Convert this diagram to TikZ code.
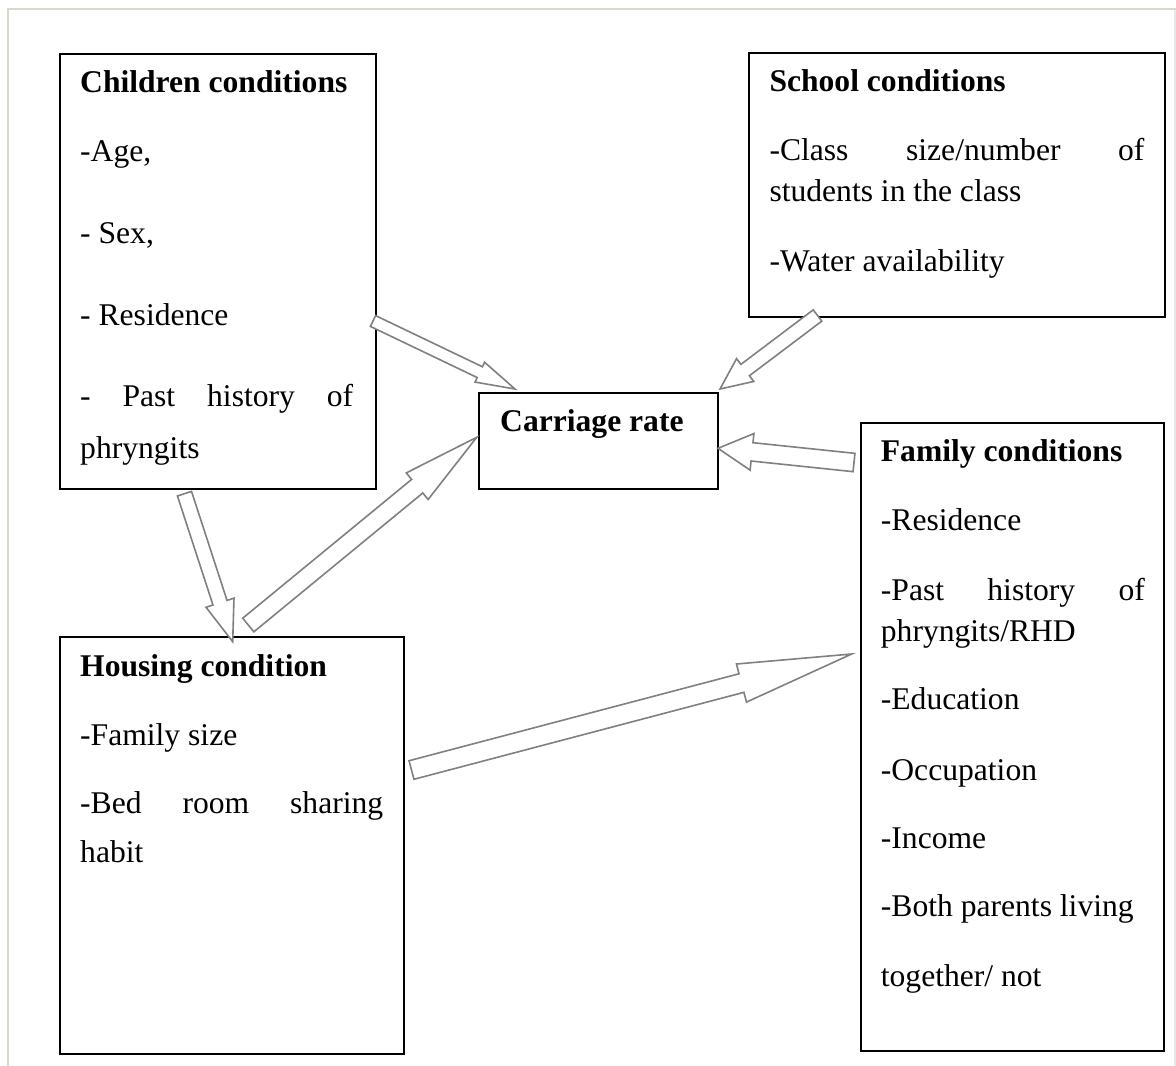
\documentclass[tikz,border=0pt]{standalone}
\usepackage{fontspec}
\setmainfont{Liberation Serif}
\usetikzlibrary{calc}
\newcommand{\blockarr}[5]{%
  \coordinate (baS) at (#1);
  \coordinate (baE) at (#2);
  \coordinate (baP) at ($(baE)!#5pt!(baS)$);
  \draw[blockarrow] ($(baS)!#3pt!90:(baE)$) -- ($(baP)!#3pt!-90:(baS)$) -- ($(baP)!#4pt!-90:(baS)$) -- (baE) -- ($(baP)!#4pt!90:(baS)$) -- ($(baP)!#3pt!90:(baS)$) -- ($(baS)!#3pt!-90:(baE)$) -- cycle;
}
\begin{document}
\begin{tikzpicture}[x=1pt,y=-1pt,
  boxst/.style={draw=black, line width=2pt, fill=none, rectangle, inner sep=0pt, anchor=north west},
  blockarrow/.style={draw=black!50, line width=1.6pt, fill=white, line join=miter},
  txt/.style={anchor=base west, inner sep=0pt, font=\fontsize{31.6}{38}\selectfont},
  hd/.style={anchor=base west, inner sep=0pt, font=\fontsize{31.6}{38}\selectfont\bfseries}]
\useasboundingbox (0,0) rectangle (1176,1066);
% outer frame
\draw[line width=2pt, color={rgb,255:red,218;green,217;blue,200}] (8,1066) -- (8,9) -- (1176,9);
\draw[line width=2pt, color={rgb,255:red,232;green,232;blue,232}] (1175,10) -- (1175,1066);

% boxes
\node[boxst, minimum width=316pt, minimum height=435.5pt] (child) at (59,52.5) {};
\node[boxst, minimum width=416pt, minimum height=264pt] (school) at (748,52) {};
\node[boxst, minimum width=238.4pt, minimum height=96pt] (carr) at (478.3,391.7) {};
\node[boxst, minimum width=303.5pt, minimum height=628pt] (family) at (859.5,422) {};
\node[boxst, minimum width=344pt, minimum height=417pt] (house) at (58.5,636) {};

% children text
\node[hd] (c0) at (80,92.7) {Children conditions};
\node[txt] (c1) at (80,161.7) {-Age,};
\node[txt] (c2) at (80,243) {- Sex,};
\node[txt] (c3) at (80,325) {- Residence};
\node[txt] (c4) at (80,406.7) {\makebox[273pt][s]{- Past history of}};
\node[txt] (c5) at (80,458) {phryngits};

% school text
\node[hd] (s0) at (769.3,91.7) {School conditions};
\node[txt] (s1) at (769.3,160) {\makebox[375pt][s]{-Class size/number of}};
\node[txt] (s2) at (769.3,201.7) {students in the class};
\node[txt] (s3) at (769.3,271.7) {-Water availability};

% carriage text
\node[hd] (r0) at (500,431.7) {Carriage rate};

% housing text
\node[hd] (h0) at (80,676.7) {Housing condition};
\node[txt] (h1) at (80,745) {-Family size};
\node[txt] (h2) at (80,813) {\makebox[303pt][s]{-Bed room sharing}};
\node[txt] (h3) at (80,862) {habit};

% family text
\node[hd] (f0) at (880.7,461.7) {Family conditions};
\node[txt] (f1) at (880.7,530) {-Residence};
\node[txt] (f2) at (880.7,600) {\makebox[264pt][s]{-Past history of}};
\node[txt] (f3) at (880.7,641.7) {phryngits/RHD};
\node[txt] (f4) at (880.7,709.3) {-Education};
\node[txt] (f5) at (880.7,780) {-Occupation};
\node[txt] (f6) at (880.7,848.3) {-Income};
\node[txt] (f7) at (880.7,916.7) {-Both parents living};
\node[txt] (f8) at (880.7,986.7) {together/ not};

% block arrows
\blockarr{$(child.north east)+(-4,268.5)$}{$(carr.north west)+(36.7,-2.7)$}{6}{11}{39}
\blockarr{$(school.south west)+(69.5,-2.5)$}{$(carr.north east)+(1.3,-2.7)$}{7.1}{14.3}{31.5}
\blockarr{$(family.north west)+(-5.5,40.5)$}{$(carr.north east)+(-0.7,56.6)$}{9.2}{18.4}{34.2}
\blockarr{$(child.south west)+(125.5,3.7)$}{$(house.north west)+(174.2,5.7)$}{7.4}{14.7}{41}
\blockarr{$(house.north west)+(189.8,-11)$}{$(carr.north west)+(-1.6,45.6)$}{8.8}{17.2}{77}
\blockarr{$(house.north east)+(7,134)$}{$(family.north west)+(-7.8,232)$}{9.6}{19.7}{114}
\end{tikzpicture}
\end{document}
